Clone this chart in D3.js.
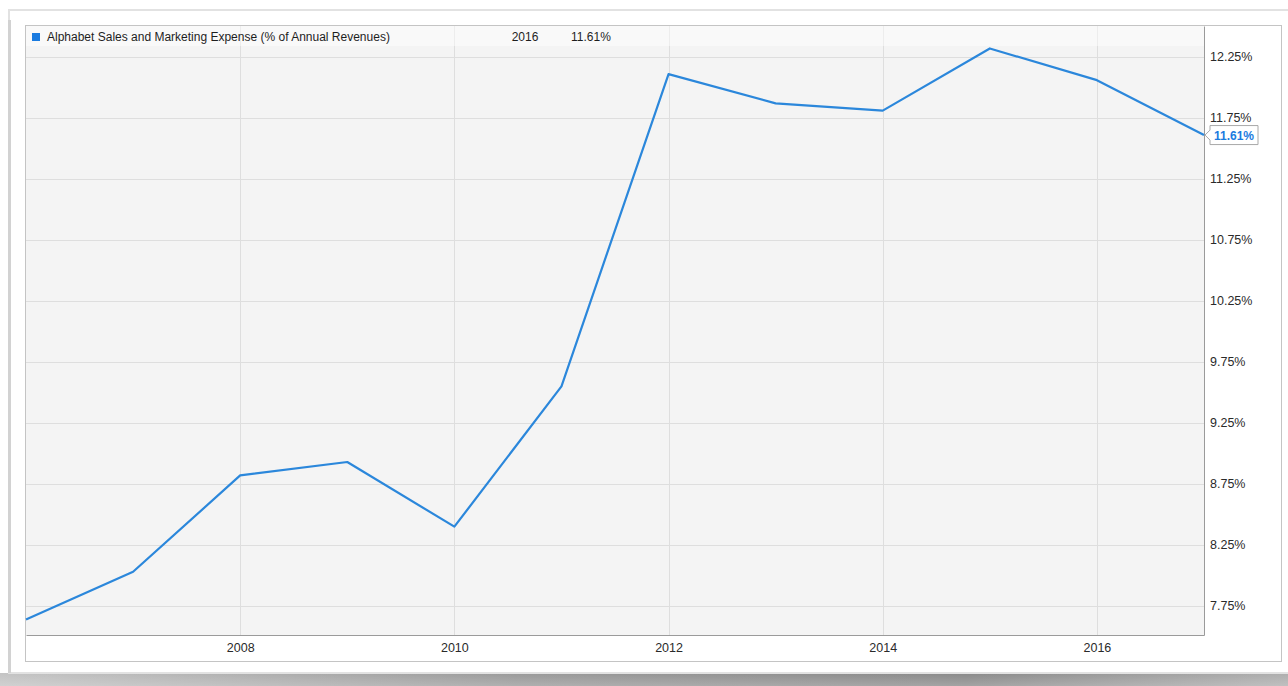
<!DOCTYPE html>
<html>
<head>
<meta charset="utf-8">
<script src="https://cdn.jsdelivr.net/npm/d3@7"></script>
<style>
  html, body { margin: 0; padding: 0; background: #fff; }
  svg { display: block; font-family: "Liberation Sans", Arial, sans-serif; }
</style>
</head>
<body>
<div id="chart"></div>
<script>
// data
const years = [2006, 2007, 2008, 2009, 2010, 2011, 2012, 2013, 2014, 2015, 2016, 2017];
const values = [7.64, 8.03, 8.82, 8.93, 8.40, 9.55, 12.11, 11.87, 11.81, 12.32, 12.06, 11.61];
const xTicks = [2008, 2010, 2012, 2014, 2016];
const yTicks = [7.75, 8.25, 8.75, 9.25, 9.75, 10.25, 10.75, 11.25, 11.75, 12.25];
const seriesName = "Alphabet Sales and Marketing Expense (% of Annual Revenues)";
const legendYear = "2016";
const lastLabel = "11.61%";

const W = 1288, H = 686;
// plot area
const plot = { left: 26, top: 26, right: 1204, bottom: 635 };
const box = { right: 1282, bottom: 662 };

const svg = d3.select("#chart").append("svg")
  .attr("width", W).attr("height", H);

const defs = svg.append("defs");
const sh = defs.append("linearGradient").attr("id", "shadow").attr("x1", 0).attr("x2", 1);
sh.append("stop").attr("offset", "0%").attr("stop-color", "#bdbdbd");
sh.append("stop").attr("offset", "40%").attr("stop-color", "#8e8e8e");
sh.append("stop").attr("offset", "75%").attr("stop-color", "#7c7c7c");
sh.append("stop").attr("offset", "100%").attr("stop-color", "#a5a5a5");
const shv = defs.append("linearGradient").attr("id", "shadowv").attr("x1", 0).attr("x2", 0).attr("y1", 0).attr("y2", 1);
shv.append("stop").attr("offset", "0%").attr("stop-color", "#fff").attr("stop-opacity", 0.1);
shv.append("stop").attr("offset", "100%").attr("stop-color", "#fff").attr("stop-opacity", 0.3);

// outer photo frame + bottom shadow
svg.append("rect").attr("x", 0).attr("y", 673).attr("width", W).attr("height", 13)
  .attr("fill", "url(#shadow)");
svg.append("rect").attr("x", 0).attr("y", 673).attr("width", W).attr("height", 13)
  .attr("fill", "url(#shadowv)");
svg.append("rect").attr("x", 9).attr("y", 10).attr("width", W).attr("height", 663)
  .attr("fill", "#fff").attr("stroke", "#e2e2e2").attr("stroke-width", 2);
svg.append("rect").attr("x", 8).attr("y", 20).attr("width", 3).attr("height", 653)
  .attr("fill", "#d2d2d2");

// chart box
svg.append("rect")
  .attr("x", plot.left - 0.5).attr("y", plot.top - 0.5)
  .attr("width", box.right - plot.left).attr("height", box.bottom - plot.top)
  .attr("fill", "#fff").attr("stroke", "#c4c4c4");

svg.append("rect")
  .attr("x", plot.left).attr("y", plot.top)
  .attr("width", plot.right - plot.left).attr("height", plot.bottom - plot.top)
  .attr("fill", "#f4f4f4");

const x = d3.scaleLinear().domain([2006, 2017]).range([plot.left, plot.right]);
const y = d3.scaleLinear().domain([7.512, 12.504]).range([plot.bottom, plot.top]);

// grid
svg.append("g").selectAll("line.h").data(yTicks).enter().append("line")
  .attr("x1", plot.left).attr("x2", plot.right)
  .attr("y1", d => Math.round(y(d)) + 0.5).attr("y2", d => Math.round(y(d)) + 0.5)
  .attr("stroke", "#dedede");
svg.append("g").selectAll("line.v").data(xTicks).enter().append("line")
  .attr("y1", plot.top).attr("y2", plot.bottom)
  .attr("x1", d => Math.round(x(d)) + 0.5).attr("x2", d => Math.round(x(d)) + 0.5)
  .attr("stroke", "#dedede");

// axes (right and bottom)
const yAxis = svg.append("g")
  .attr("transform", `translate(${plot.right},0)`)
  .call(d3.axisRight(y).tickValues(yTicks).tickSize(0).tickPadding(6)
    .tickFormat(d => d.toFixed(2) + "%"));
yAxis.select(".domain").attr("stroke", "#9a9a9a");
yAxis.selectAll("text").attr("font-size", 12.5).attr("fill", "#2a2a2a")
  .attr("font-family", "Liberation Sans, Arial, sans-serif").attr("dy", "0.25em");

const xAxis = svg.append("g")
  .attr("transform", `translate(0,${plot.bottom})`)
  .call(d3.axisBottom(x).tickValues(xTicks).tickSize(0).tickPadding(8)
    .tickFormat(d3.format("d")));
xAxis.select(".domain").attr("stroke", "#9a9a9a");
xAxis.selectAll("text").attr("font-size", 12.5).attr("fill", "#2a2a2a")
  .attr("font-family", "Liberation Sans, Arial, sans-serif");

// legend row overlay
svg.append("rect").attr("x", plot.left).attr("y", plot.top)
  .attr("width", plot.right - plot.left).attr("height", 20)
  .attr("fill", "#fff").attr("opacity", 0.45);
svg.append("rect").attr("x", 32).attr("y", 33).attr("width", 8).attr("height", 8)
  .attr("fill", "#1a7be0");
svg.append("text").attr("x", 47).attr("y", 41).attr("font-size", 12).attr("fill", "#1e1e1e")
  .text(seriesName);
svg.append("text").attr("x", 525).attr("y", 41).attr("font-size", 12).attr("fill", "#1e1e1e")
  .attr("text-anchor", "middle").text(legendYear);
svg.append("text").attr("x", 571).attr("y", 41).attr("font-size", 12).attr("fill", "#1e1e1e")
  .text(lastLabel);

// series line
const line = d3.line().x((d, i) => x(years[i])).y(d => y(d));
svg.append("path").datum(values)
  .attr("d", line)
  .attr("fill", "none")
  .attr("stroke", "#2b87db")
  .attr("stroke-width", 2.2)
  .attr("stroke-linejoin", "round");

// last value callout
const lx = x(years[years.length - 1]), ly = y(values[values.length - 1]);
const call = svg.append("g").attr("transform", `translate(${lx},${ly})`);
call.append("path")
  .attr("d", "M1,0 L6,-5 L6,-9.5 L54,-9.5 L54,9.5 L6,9.5 L6,5 Z")
  .attr("fill", "#fff").attr("stroke", "#a8a8a8");
call.append("text").attr("x", 30).attr("y", 4.5).attr("text-anchor", "middle")
  .attr("font-size", 12).attr("font-weight", "bold").attr("fill", "#1a7be0")
  .text(lastLabel);
</script>
</body>
</html>
